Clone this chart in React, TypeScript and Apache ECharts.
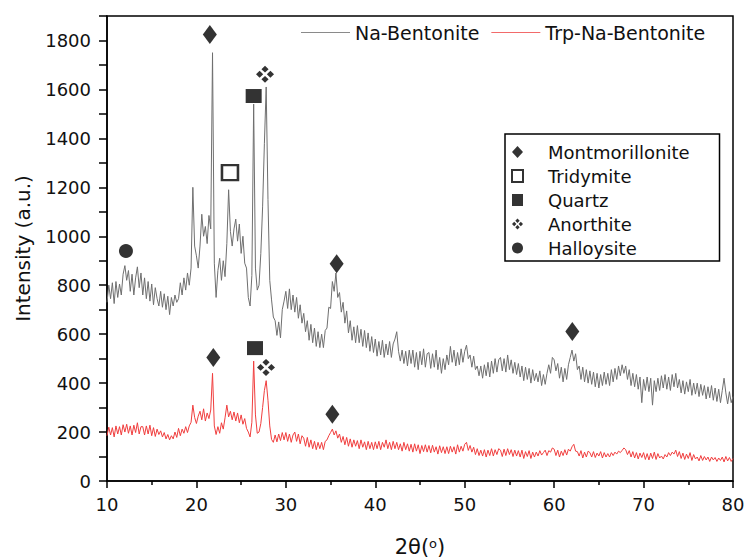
import React, { useEffect, useRef } from 'react';
import * as echarts from 'echarts';

// Diffractogram sampling: 2θ from 10° in 0.2° steps
const ANGLE_START = 10;
const ANGLE_STEP = 0.2;

// Na-Bentonite intensities (a.u.), one value per step
const naBentonite = [
  730, 800, 745, 810, 725, 815, 750, 805, 760, 845,
  880, 820, 860, 775, 845, 760, 830, 875, 790, 850,
  760, 830, 745, 815, 735, 805, 720, 790, 745, 715,
  775, 710, 765, 700, 755, 680, 750, 715, 760, 730,
  745, 810, 760, 830, 780, 850, 800, 870, 1200, 960,
  920, 870, 960, 1090, 1000, 1040, 970, 1085, 1030, 1750,
  890, 750, 860, 910, 820, 900, 835, 970, 1190, 1020,
  960, 1030, 1070, 980, 1050, 930, 1000, 890, 870, 750,
  715, 840, 1540, 870, 780, 800, 930, 1120, 1380, 1610,
  1150, 820, 740, 670, 655, 595, 650, 585, 700, 735,
  775, 705, 785, 700, 760, 690, 750, 665, 720, 645,
  685, 610, 655, 575, 640, 565, 625, 550, 610, 545,
  600, 545, 615, 625, 710, 705, 815, 775, 850, 750,
  770, 690, 730, 645, 695, 605, 655, 575, 630, 565,
  635, 565, 620, 550, 615, 545, 605, 530, 590, 525,
  580, 510, 570, 515, 575, 505, 560, 515, 570, 505,
  560, 580, 610, 530, 490, 535, 480, 530, 470, 535,
  480, 535, 465, 525, 455, 530, 475, 540, 465, 520,
  525, 460, 520, 465, 535, 455, 505, 440, 500, 455,
  515, 475, 550, 485, 535, 470, 525, 475, 540, 485,
  530, 555, 500, 515, 465, 510, 455, 470, 430, 470,
  420, 475, 430, 485, 425, 490, 440, 500, 445, 495,
  505, 450, 500, 445, 515, 455, 495, 440, 485, 435,
  480, 425, 470, 410, 465, 415, 460, 400, 455, 410,
  440, 405, 450, 390, 435, 395, 440, 475, 440, 505,
  495, 450, 480, 420, 465, 405, 460, 415, 475, 505,
  535, 490, 520, 455, 470, 415, 465, 405, 455, 400,
  450, 395, 445, 385, 440, 380, 435, 390, 445, 395,
  440, 390, 455, 405, 460, 415, 470, 430, 475, 440,
  470, 415, 455, 390, 440, 385, 435, 375, 425, 320,
  415, 370, 425, 365, 420, 310, 410, 365, 420, 370,
  430, 380, 435, 375, 425, 370, 435, 385, 440, 380,
  415, 360, 410, 355, 405, 365, 415, 350, 400, 355,
  400, 345, 395, 350, 390, 335, 385, 340, 390, 330,
  380, 325, 375, 320, 370, 420, 360, 315, 365, 320,
  345,
];

// Trp-Na-Bentonite intensities (a.u.), same 2θ grid
const trpNaBentonite = [
  185, 220, 188, 218, 180, 225, 192, 222, 188, 230,
  200, 232, 195, 225, 188, 228, 198, 238, 192, 222,
  222, 188, 225, 192, 228, 185, 218, 182, 212, 190,
  205, 180, 198, 172, 190, 168, 185, 172, 200, 178,
  215, 185, 212, 195, 222, 198, 225, 240, 310, 260,
  235, 265, 285, 250, 295, 245, 278, 255, 290, 440,
  225, 190, 222, 195, 238, 212, 258, 310, 262, 285,
  250, 282, 245, 278, 238, 270, 232, 255, 215, 200,
  180, 240, 490, 270, 195, 200, 235, 300, 370, 410,
  330, 225, 170, 158, 188, 160, 192, 165, 198, 168,
  198, 162, 192, 158, 188, 200, 162, 192, 152, 185,
  175, 142, 178, 138, 168, 132, 162, 128, 158, 132,
  158, 128, 162, 168, 185, 198, 212, 188, 205, 175,
  192, 158, 182, 148, 178, 142, 172, 138, 168, 142,
  165, 132, 168, 138, 160, 128, 162, 132, 158, 128,
  160, 132, 162, 128, 158, 138, 168, 132, 158, 128,
  162, 132, 158, 128, 152, 122, 158, 128, 152, 122,
  150, 118, 152, 122, 148, 112, 145, 120, 148, 118,
  145, 115, 146, 118, 140, 110, 144, 116, 140, 112,
  140, 112, 142, 118, 140, 110, 148, 118, 142, 122,
  150, 158, 125, 145, 118, 138, 108, 132, 104, 126,
  102, 128, 98, 126, 104, 132, 102, 128, 108, 132,
  126, 100, 130, 104, 132, 108, 128, 100, 126, 102,
  124, 98, 126, 92, 120, 100, 124, 92, 118, 98,
  118, 102, 124, 106, 116, 126, 104, 124, 118, 135,
  130, 104, 126, 98, 122, 104, 128, 106, 130, 122,
  140, 150, 122, 120, 102, 124, 94, 118, 98, 122,
  116, 98, 120, 96, 114, 102, 120, 94, 116, 98,
  112, 98, 116, 104, 118, 110, 122, 116, 125, 135,
  128, 108, 124, 98, 120, 94, 116, 90, 114, 96,
  116, 88, 112, 86, 114, 92, 118, 88, 112, 94,
  102, 90, 108, 98, 116, 104, 118, 110, 126, 100,
  120, 92, 114, 88, 110, 92, 116, 84, 108, 90,
  98, 82, 104, 84, 100, 86, 98, 80, 98, 86,
  96, 80, 94, 84, 98, 78, 100, 82, 96, 80,
  92,
];

// Phase identification marks: [2θ, intensity]
const montmorilloniteMarks = [[21.5, 1824], [35.68, 888], [62.03, 611], [21.89, 505], [35.2, 273]];
const tridymiteMarks = [[23.75, 1260]];
const quartzMarks = [[26.4, 1573], [26.55, 543]];
const anorthiteMarks = [[27.67, 1662], [27.78, 464]];
const halloysiteMarks = [[12.12, 940]];

const xTicks = { min: 10, max: 80, interval: 10 };
const yTicks = { min: 0, max: 1900, labelStep: 200 };

// four small diamonds arranged in a cross
const ANORTHITE_SYMBOL =
  'path://M15 0L21 6L15 12L9 6Z M6 9L12 15L6 21L0 15Z M24 9L30 15L24 21L18 15Z M15 18L21 24L15 30L9 24Z';

const FONT = 'DejaVu Sans';

const toPairs = (vals: number[]) =>
  vals.map((v, i) => [Number((ANGLE_START + i * ANGLE_STEP).toFixed(1)), v]);

export default function App() {
  const ref = useRef<HTMLDivElement>(null);

  useEffect(() => {
    if (!ref.current) return;
    const chart = echarts.init(ref.current, undefined, { renderer: 'svg' });

    const markSeries = (name: string, data: number[][], symbol: string, size: number[], style: any) => ({
      name,
      type: 'scatter',
      data,
      symbol,
      symbolSize: size,
      itemStyle: style,
      z: 5,
      silent: true,
    });

    chart.setOption({
      animation: false,
      backgroundColor: '#fff',
      grid: {
        left: 107,
        right: 14,
        top: 16,
        bottom: 77,
        outerBoundsMode: 'none',
        show: true,
        borderColor: '#000',
        borderWidth: 1.5,
      },
      legend: [
        {
          data: ['Na-Bentonite', 'Trp-Na-Bentonite'],
          icon: 'rect',
          left: 301,
          top: 23,
          itemWidth: 49,
          itemHeight: 1.2,
          itemGap: 12,
          padding: 0,
          textStyle: { fontFamily: FONT, fontSize: 19, color: '#111' },
        },
        {
          data: ['Montmorillonite', 'Tridymite', 'Quartz', 'Anorthite', 'Halloysite'],
          orient: 'vertical',
          left: 505,
          top: 134,
          itemWidth: 11,
          itemHeight: 12,
          itemGap: 6,
          padding: [9, 30, 4, 6],
          borderColor: '#000',
          borderWidth: 1.5,
          borderRadius: 0,
          textStyle: { fontFamily: FONT, fontSize: 18, color: '#111', padding: [0, 0, 0, 20] },
        },
      ],
      xAxis: {
        type: 'value',
        min: xTicks.min,
        max: xTicks.max,
        interval: xTicks.interval,
        name: '{t|2θ(}{s|o}{t|)}',
        nameLocation: 'middle',
        nameGap: 56,
        nameTextStyle: {
          lineHeight: 20,
          rich: {
            t: { fontFamily: FONT, fontSize: 21, color: '#111', lineHeight: 20 },
            s: { fontFamily: FONT, fontSize: 13, color: '#111', lineHeight: 20, verticalAlign: 'top' },
          },
        },
        axisLine: { lineStyle: { color: '#000', width: 1.5 } },
        axisTick: { length: 7, lineStyle: { color: '#000', width: 1.5 } },
        minorTick: { show: true, splitNumber: 2, length: 4, lineStyle: { color: '#000', width: 1.5 } },
        axisLabel: { fontFamily: FONT, fontSize: 18, color: '#111', margin: 14 },
        splitLine: { show: false },
      },
      yAxis: {
        type: 'value',
        min: yTicks.min,
        max: yTicks.max,
        interval: 100,
        name: 'Intensity (a.u.)',
        nameLocation: 'middle',
        nameGap: 74,
        nameTextStyle: { fontFamily: FONT, fontSize: 20, color: '#111' },
        axisLine: { lineStyle: { color: '#000', width: 1.5 } },
        axisTick: { length: 8, lineStyle: { color: '#000', width: 1.5 } },
        axisLabel: {
          fontFamily: FONT,
          fontSize: 18,
          color: '#111',
          margin: 16,
          formatter: (v: number) => (v % yTicks.labelStep === 0 && v < yTicks.max ? String(v) : ''),
        },
        splitLine: { show: false },
      },
      series: [
        {
          name: 'Na-Bentonite',
          type: 'line',
          data: toPairs(naBentonite),
          symbol: 'none',
          lineStyle: { color: '#6f6f6f', width: 1 },
          itemStyle: { color: '#8a8a8a' },
          z: 2,
        },
        {
          name: 'Trp-Na-Bentonite',
          type: 'line',
          data: toPairs(trpNaBentonite),
          symbol: 'none',
          lineStyle: { color: '#f03e3e', width: 1 },
          itemStyle: { color: '#f26a6a' },
          z: 3,
        },
        markSeries('Montmorillonite', montmorilloniteMarks, 'diamond', [14, 19], { color: '#000' }),
        markSeries('Tridymite', tridymiteMarks, 'rect', [16, 15], { color: '#fff', borderColor: '#000', borderWidth: 2.5 }),
        markSeries('Quartz', quartzMarks, 'rect', [16, 14], { color: '#000' }),
        markSeries('Anorthite', anorthiteMarks, ANORTHITE_SYMBOL, [18, 17], { color: '#000' }),
        markSeries('Halloysite', halloysiteMarks, 'circle', [14, 14], { color: '#000' }),
      ],
    });

    return () => chart.dispose();
  }, []);

  return (
    <div
      ref={ref}
      style={{ position: 'fixed', left: 0, top: 0, width: 747, height: 558, background: '#fff' }}
    />
  );
}
